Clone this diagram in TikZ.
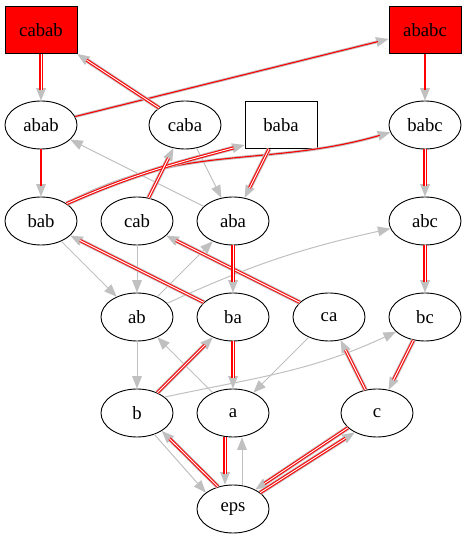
\documentclass[tikz,border=0pt]{standalone}
\usepackage{fontspec}
\setmainfont{Liberation Serif}
\usetikzlibrary{arrows.meta,shapes.geometric}
\definecolor{edgegray}{RGB}{192,192,192}
\definecolor{edgered}{RGB}{255,0,0}
\begin{document}
\begin{tikzpicture}[x=1pt,y=1pt,
  label font/.style={font=\fontsize{18.7pt}{22pt}\selectfont},
  state/.style={ellipse, draw=black, line width=0.9pt, fill=white,
    minimum width=72pt, minimum height=48pt, inner sep=0pt, label font},
  boxstate/.style={rectangle, draw=black, line width=0.9pt, fill=white,
    minimum width=72pt, minimum height=47pt, inner sep=0pt, label font},
  marked/.style={boxstate, fill=red},
  tiphead/.style={-{Triangle[length=12.5pt,width=10pt,line width=0pt]}},
  plainedge/.style={draw=edgegray, line width=1pt, tiphead},
  pairbase/.style={draw=edgegray, line width=2.8pt, tiphead},
  paircore/.style={draw=edgered, line width=1.1pt, shorten >=11pt},
  tripbase/.style={draw=edgegray, line width=4.8pt, tiphead},
  tripcore/.style={draw=edgered, line width=1.1pt, double=white,
    double distance=0.9pt, shorten >=11pt},
]
\useasboundingbox (0,0) rectangle (467,539);

% states
\node[marked]   (cabab) at (41,509)  {cabab};
\node[marked]   (ababc) at (425,509) {ababc};
\node[state]    (abab)  at (41,414)  {abab};
\node[state]    (caba)  at (185,414) {caba};
\node[boxstate] (baba)  at (281,414) {baba};
\node[state]    (babc)  at (425,414) {babc};
\node[state]    (bab)   at (41,318)  {bab};
\node[state]    (cab)   at (137,318) {cab};
\node[state]    (aba)   at (233,318) {aba};
\node[state]    (abc)   at (425,318) {abc};
\node[state]    (ab)    at (137,222) {ab};
\node[state]    (ba)    at (233,222) {ba};
\node[state]    (ca)    at (329,222) {ca};
\node[state]    (bc)    at (425,222) {bc};
\node[state]    (b)     at (137,126) {b};
\node[state]    (a)     at (233,126) {a};
\node[state]    (c)     at (377,126) {c};
\node[state]    (eps)   at (233,30)  {eps};

% plain transitions
\draw[plainedge] (aba) -- (abab);
\draw[plainedge] (caba) -- (aba);
\draw[plainedge] (bab) -- (ab);
\draw[plainedge] (cab) -- (ab);
\draw[plainedge] (ab) -- (aba);
\draw[plainedge] (ab) to[bend left=6] (abc);
\draw[plainedge] (ab) -- (b);
\draw[plainedge] (a) -- (ab);
\draw[plainedge] (ca) -- (a);
\draw[plainedge] (b.30) to[out=12,in=205] (bc.207);
\draw[plainedge] (b.-51) -- (eps.149);
\draw[plainedge] ([xshift=9pt]eps.north) -- ([xshift=9pt]a.south);

% two-strand transitions: gray body with arrow, red core on top
\foreach \st in {pairbase, paircore} {
  \draw[\st] (abab) -- (ababc);
  \draw[\st] (ababc) -- (babc);
  \draw[\st] (abab) -- (bab);
  \draw[\st] (bab.34) to[out=28,in=196] (babc.192);
}

% three-strand transitions
\foreach \st in {tripbase, tripcore} {
  \draw[\st] (cabab) -- (abab);
  \draw[\st] (caba) -- (cabab);
  \draw[\st] (bab.34) to[out=24,in=195] ([yshift=4pt]baba.south west);
  \draw[\st] (cab) -- (caba);
  \draw[\st] (baba) -- (aba);
  \draw[\st] (babc) -- (abc);
  \draw[\st] (abc) -- (bc);
  \draw[\st] (ba) -- (bab);
  \draw[\st] (ca) -- (cab);
  \draw[\st] (aba) -- (ba);
  \draw[\st] (b) -- (ba);
  \draw[\st] (ba) -- (a);
  \draw[\st] (c) -- (ca);
  \draw[\st] (bc) -- (c);
  \draw[\st] (eps.124) -- (b.-36);
  \draw[\st] ([xshift=-8pt]a.south) -- ([xshift=-8pt]eps.north);
  \draw[\st] (eps.31) -- (c.221);
  \draw[\st] (c.207) -- (eps.41);
}
\end{tikzpicture}
\end{document}
